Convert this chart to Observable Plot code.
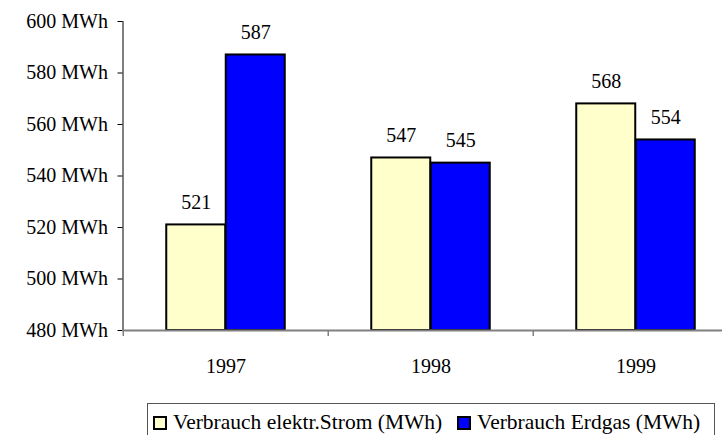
<!DOCTYPE html>
<html>
<head>
<meta charset="utf-8">
<script src="https://cdn.jsdelivr.net/npm/d3@7"></script>
<script src="https://cdn.jsdelivr.net/npm/@observablehq/plot@0.6"></script>
<style>
  body { margin: 0; background: #fff; }
  #wrap { position: relative; width: 722px; height: 435px; overflow: hidden; font-family: 'Liberation Serif', serif; }
  #wrap svg text { font-family: 'Liberation Serif', serif; }
  #legend { position: absolute; left: 147px; top: 403px; width: 568px; height: 40px; border: 1px solid #555; box-sizing: border-box; font-size: 21.5px; color: #000; font-family: 'Liberation Serif', serif; }
  #legend .item { position: absolute; top: 7px; white-space: nowrap; line-height: 22px; }
  #legend .sw { display: inline-block; width: 10px; height: 10px; border: 2px solid #000; vertical-align: -1px; margin-right: 6px; }
</style>
</head>
<body>
<div id="wrap"></div>
<script>
const years = ["1997", "1998", "1999"];
const seriesNames = ["Verbrauch elektr.Strom (MWh)", "Verbrauch Erdgas (MWh)"];
const stromValues = [521, 547, 568];
const erdgasValues = [587, 545, 554];
const yTicks = [480, 500, 520, 540, 560, 580, 600];
const colors = ["#FFFFCC", "#0000FF"];

const strom = years.map((y, i) => ({year: y, value: stromValues[i], series: seriesNames[0]}));
const erdgas = years.map((y, i) => ({year: y, value: erdgasValues[i], series: seriesNames[1]}));

const xRange = [122.5, 739];
const bw = (xRange[1] - xRange[0]) / years.length;
const barW = 59.5;
const yMin = yTicks[0];

const chart = Plot.plot({
  width: 722,
  height: 395,
  marginTop: 21,
  marginBottom: 65,
  marginLeft: 122.5,
  marginRight: 0,
  style: {fontFamily: "'Liberation Serif', serif", fontSize: "20px", color: "#000", background: "#fff", overflow: "visible"},
  x: {domain: years, range: xRange, padding: 0, tickSize: 0, tickPadding: 28, label: null},
  y: {domain: [yTicks[0], yTicks[yTicks.length - 1]], ticks: yTicks, tickSize: 5, tickPadding: 10, tickFormat: d => `${d} MWh`, label: null, line: true},
  marks: [
    Plot.barY(strom, {x: "year", y1: () => yMin, y2: "value", fill: colors[0], stroke: "#000", strokeWidth: 2,
      insetLeft: bw / 2 - barW, insetRight: bw / 2}),
    Plot.barY(erdgas, {x: "year", y1: () => yMin, y2: "value", fill: colors[1], stroke: "#000", strokeWidth: 2,
      insetLeft: bw / 2, insetRight: bw / 2 - barW}),
    Plot.ruleY([yMin], {stroke: "#808080", strokeWidth: 2}),
    Plot.ruleX(years, {x: d => d, y1: () => yMin, y2: () => yMin, dx: -bw / 2, insetBottom: -6, stroke: "#808080", strokeWidth: 1.5}),
    Plot.text(strom, {x: "year", y: "value", text: d => String(d.value), dx: -barW / 2, dy: -16, lineAnchor: "bottom", fill: "#000"}),
    Plot.text(erdgas, {x: "year", y: "value", text: d => String(d.value), dx: barW / 2, dy: -16, lineAnchor: "bottom", fill: "#000"})
  ]
});

const wrap = document.getElementById("wrap");
wrap.appendChild(chart);

const legend = document.createElement("div");
legend.id = "legend";
const lefts = [5, 309];
seriesNames.forEach((name, i) => {
  const item = document.createElement("div");
  item.className = "item";
  item.style.left = lefts[i] + "px";
  const sw = document.createElement("span");
  sw.className = "sw";
  sw.style.background = colors[i];
  item.appendChild(sw);
  item.appendChild(document.createTextNode(name));
  legend.appendChild(item);
});
wrap.appendChild(legend);
</script>
</body>
</html>
